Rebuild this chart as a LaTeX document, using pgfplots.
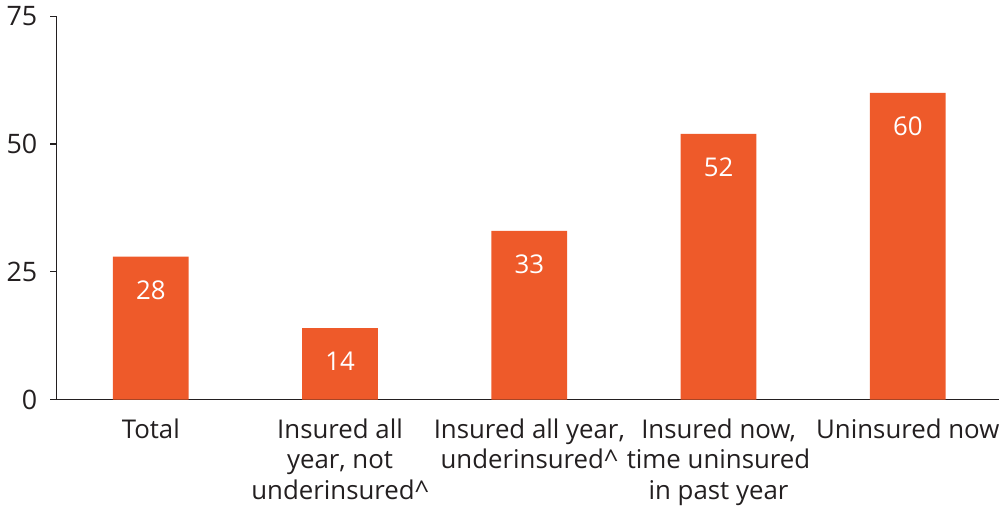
\documentclass[border=0pt]{standalone}
\usepackage{fontspec}
\setmainfont{Open Sans}
\usepackage{pgfplots}
\pgfplotsset{compat=1.18}
\definecolor{barorange}{HTML}{EE5A2A}
\definecolor{axisgray}{HTML}{231F20}
\begin{document}
\begin{tikzpicture}
\begin{axis}[
  scale only axis,
  width=474.5pt, height=193pt,
  xmin=-0.5, xmax=4.48,
  ymin=0, ymax=75,
  axis lines*=left,
  axis line style={axisgray, line width=0.6pt},
  every tick/.style={axisgray, line width=0.6pt},
  ytick={0,25,50,75},
  ytick pos=left,
  tick align=outside,
  major tick length=3pt,
  xtick={0,1,2,3,4},
  xtick style={draw=none},
  xticklabels={{Total}, {Insured all\\year, not\\underinsured\textasciicircum}, {Insured all year,\\underinsured\textasciicircum}, {Insured now,\\time uninsured\\in past year}, {Uninsured now}},
  xticklabel style={align=center, font=\fontsize{13}{15.5}\selectfont, text=axisgray, yshift=-3pt},
  extra x ticks={-0.5,0.5,1.5,2.5,3.5},
  extra x tick labels={},
  extra x tick style={major tick length=4pt, tick style={draw=axisgray, line width=0.6pt}},
  yticklabel style={font=\fontsize{13.5}{15}\selectfont, text=axisgray, xshift=-3pt},
  /pgf/number format/assume math mode=true,
  ybar, bar width=0.4,
  nodes near coords,
  nodes near coords style={anchor=north, yshift=-8.5pt, text=white, font=\fontsize{13}{15}\selectfont},
  clip=false,
]
\addplot[fill=barorange, draw=none] coordinates {(0,28) (1,14) (2,33) (3,52) (4,60)};
\end{axis}
\end{tikzpicture}
\end{document}
